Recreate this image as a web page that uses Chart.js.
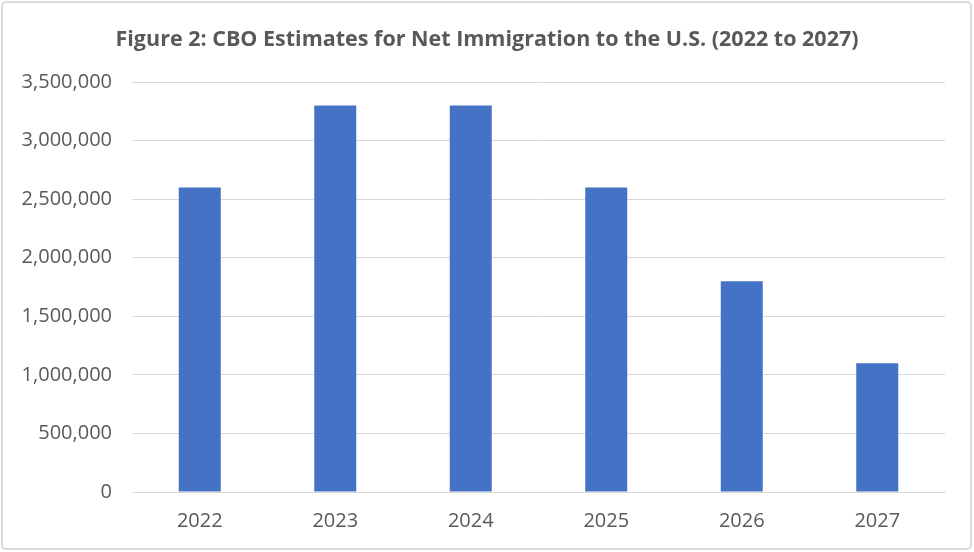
<!DOCTYPE html>
<html>
<head>
<meta charset="utf-8">
<script src="https://cdn.jsdelivr.net/npm/chart.js@4/dist/chart.umd.min.js"></script>
<style>
  html, body { margin: 0; padding: 0; background: #fff; }
  #wrap { width: 974px; height: 552px; position: relative; }
</style>
</head>
<body>
<div id="wrap"><canvas id="chart"></canvas></div>
<script>
const years = ["2022", "2023", "2024", "2025", "2026", "2027"]
const netImmigration = [2600000, 3300000, 3300000, 2600000, 1800000, 1100000]
const titleText = "Figure 2: CBO Estimates for Net Immigration to the U.S. (2022 to 2027)"

const textColor = "#595959"
const fontFamily = "'Open Sans', 'Liberation Sans', sans-serif"

// title centred on the whole picture, plus a light frame round it
const frame = {
  id: "frame",
  afterDraw(chart) {
    const ctx = chart.ctx
    ctx.save()
    ctx.fillStyle = textColor
    ctx.font = "bold 21.5px " + fontFamily
    ctx.textAlign = "center"
    ctx.textBaseline = "middle"
    ctx.fillText(titleText, chart.width / 2, 40)
    ctx.strokeStyle = "#d9d9d9"
    ctx.lineWidth = 2
    ctx.beginPath()
    ctx.roundRect(2, 2, chart.width - 5, chart.height - 5, 4)
    ctx.stroke()
    ctx.restore()
  },
}

new Chart(document.getElementById("chart"), {
  type: "bar",
  data: {
    labels: years,
    datasets: [
      {
        data: netImmigration,
        backgroundColor: "#4472c4",
        borderWidth: 0,
        categoryPercentage: 1,
        barPercentage: 0.31,
      },
    ],
  },
  options: {
    responsive: true,
    maintainAspectRatio: false,
    animation: false,
    layout: { padding: { left: 0, right: 29, top: 82, bottom: 2 } },
    plugins: {
      legend: { display: false },
      tooltip: { enabled: false },
      title: { display: false },
    },
    scales: {
      x: {
        grid: { display: false, drawTicks: false },
        border: { display: true, color: "#d9d9d9", width: 1 },
        ticks: {
          color: textColor,
          font: { family: fontFamily, size: 20 },
          padding: 17,
        },
      },
      y: {
        min: 0,
        max: 3500000,
        afterFit(scale) { scale.width = 132 },
        grid: { color: "#d9d9d9", drawTicks: false },
        border: { display: false },
        ticks: {
          stepSize: 500000,
          color: textColor,
          font: { family: fontFamily, size: 20 },
          padding: 20,
          callback: (v) => v.toLocaleString("en-US"),
        },
      },
    },
  },
  plugins: [frame],
})
</script>
</body>
</html>
